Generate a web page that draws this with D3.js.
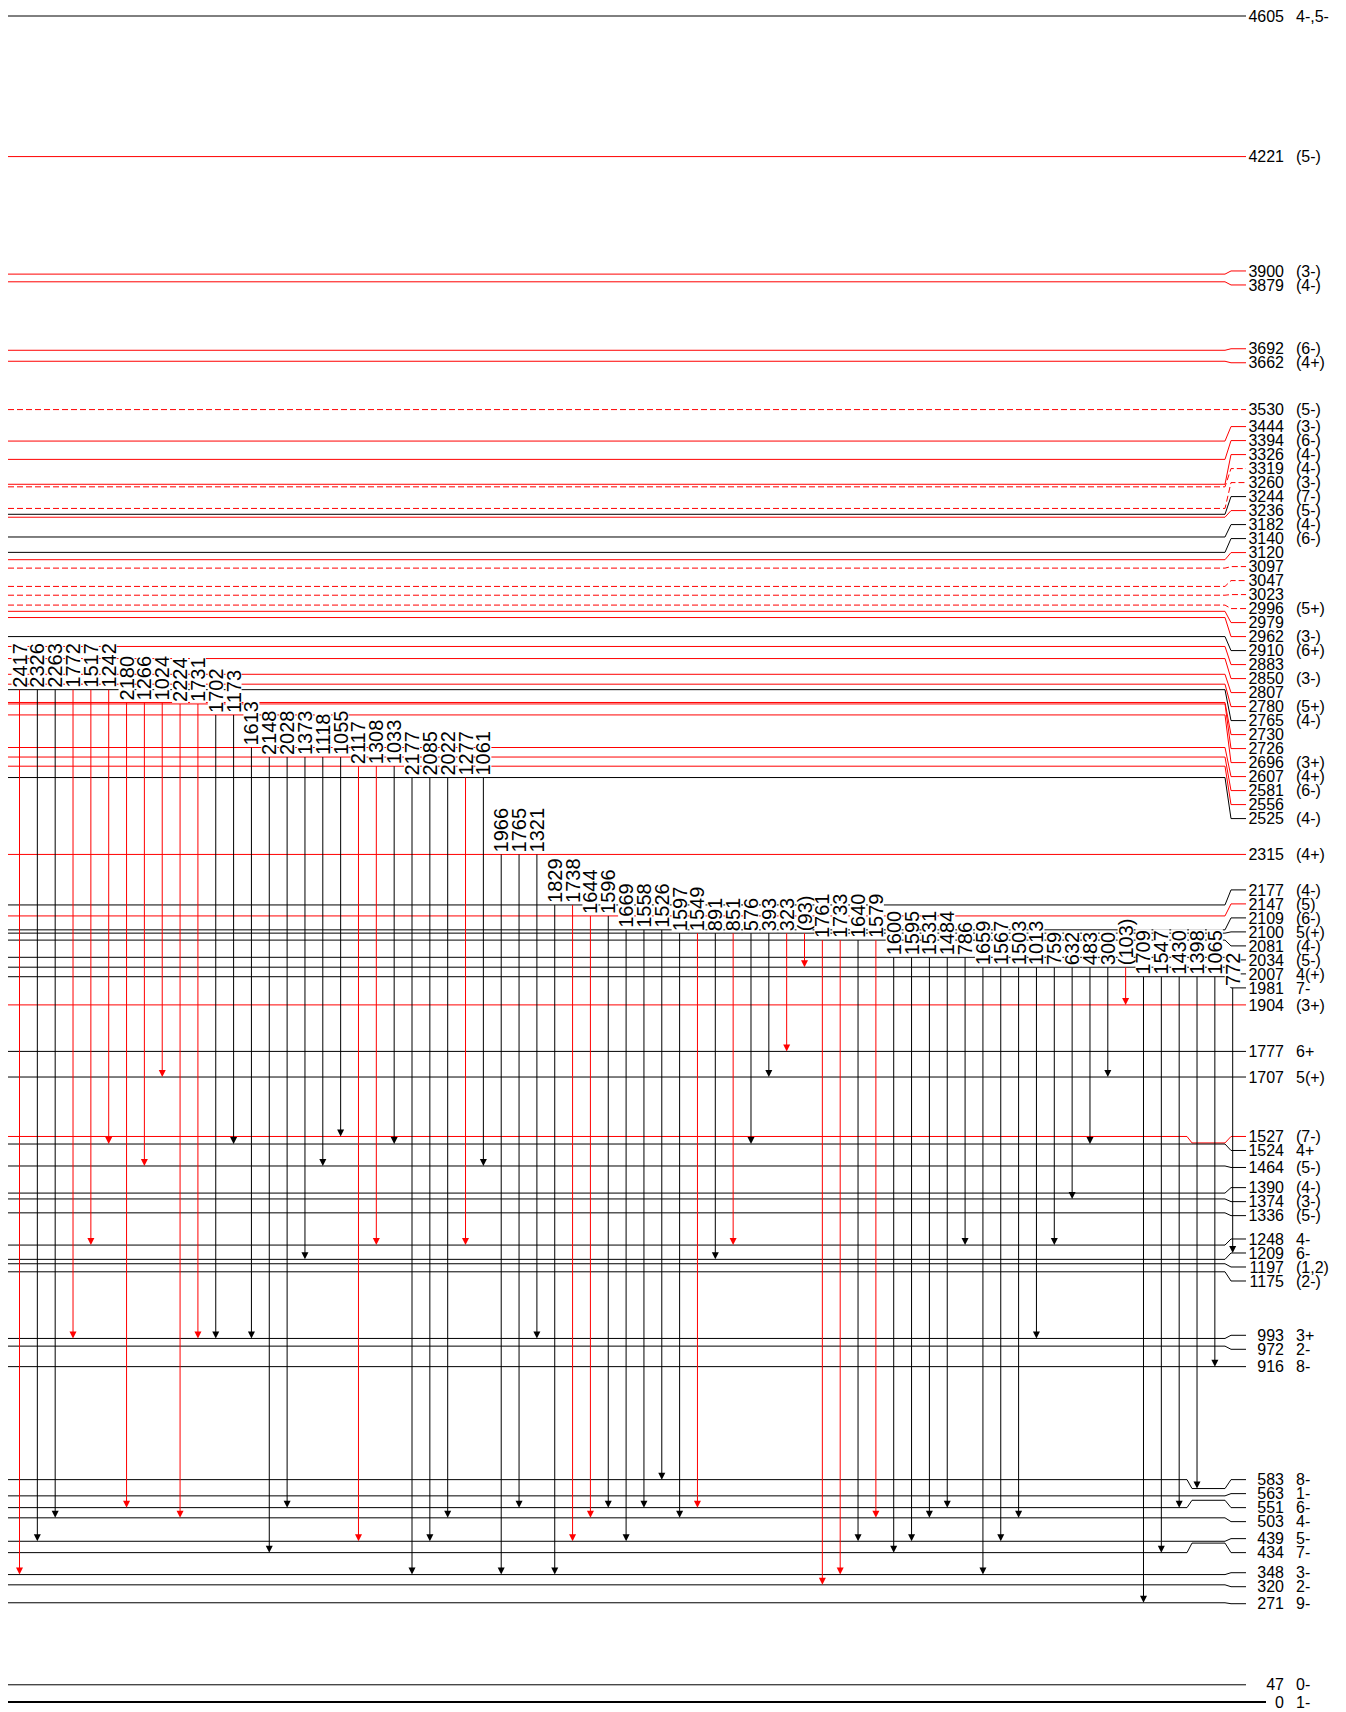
<!DOCTYPE html>
<html>
<head>
<meta charset="utf-8">
<script src="https://cdn.jsdelivr.net/npm/d3@7"></script>
<style>
	body { margin: 0; background: #fff; }
	text { font-family: "Liberation Sans", Arial, sans-serif; }
</style>
</head>
<body>
<div id="scheme"></div>
<script>
// levels, top to bottom (keV) and their spins
const levelE = [4605, 4221, 3900, 3879, 3692, 3662, 3530, 3444, 3394, 3326, 3319, 3260, 3244, 3236,
	3182, 3140, 3120, 3097, 3047, 3023, 2996, 2979, 2962, 2910, 2883, 2850, 2807, 2780, 2765,
	2730, 2726, 2696, 2607, 2581, 2556, 2525, 2315, 2177, 2147, 2109, 2100, 2081, 2034, 2007,
	1981, 1904, 1777, 1707, 1527, 1524, 1464, 1390, 1374, 1336, 1248, 1209, 1197, 1175,
	993, 972, 916, 583, 563, 551, 503, 439, 434, 348, 320, 271, 47, 0]
const levelSpin = ["4-,5-", "(5-)", "(3-)", "(4-)", "(6-)", "(4+)", "(5-)", "(3-)", "(6-)", "(4-)", "(4-)", "(3-)", "(7-)", "(5-)",
	"(4-)", "(6-)", "", "", "", "", "(5+)", "", "(3-)", "(6+)", "", "(3-)", "", "(5+)", "(4-)",
	"", "", "(3+)", "(4+)", "(6-)", "", "(4-)", "(4+)", "(4-)", "(5)", "(6-)", "5(+)", "(4-)", "(5-)", "4(+)",
	"7-", "(3+)", "6+", "5(+)", "(7-)", "4+", "(5-)", "(4-)", "(3-)", "(5-)", "4-", "6-", "(1,2)", "(2-)",
	"3+", "2-", "8-", "8-", "1-", "6-", "4-", "5-", "7-", "3-", "2-", "9-", "0-", "1-"]
// levels seen for the first time (red) and tentative ones (dashed)
const newLevels = [4221, 3900, 3879, 3692, 3662, 3530, 3444, 3394, 3326, 3319, 3260, 3236, 3120, 3097,
	3047, 3023, 2996, 2979, 2962, 2883, 2850, 2807, 2780, 2730, 2726, 2696, 2607, 2581, 2556,
	2315, 2147, 1904, 1527]
const tentativeLevels = [3530, 3319, 3260, 3097, 3047, 3023, 2996]

// gamma rays, left to right
const gammaLabel = ["2417", "2326", "2263", "1772", "1517", "1242", "2180", "1266", "1024", "2224", "1731",
	"1702", "1173", "1613", "2148", "2028", "1373", "1118", "1055", "2117", "1308", "1033", "2177", "2085",
	"2022", "1277", "1061", "1966", "1765", "1321", "1829", "1738", "1644", "1596", "1669", "1558", "1526",
	"1597", "1549", "891", "851", "576", "393", "323", "(93)", "1761", "1733", "1640", "1579", "1600", "1595",
	"1531", "1484", "786", "1659", "1567", "1503", "1013", "759", "632", "483", "300", "(103)", "1709",
	"1547", "1430", "1398", "1065", "772"]
const gammaFrom = [2765, 2765, 2765, 2765, 2765, 2765, 2730, 2730, 2730, 2726, 2726,
	2696, 2696, 2607, 2581, 2581, 2581, 2581, 2581, 2556, 2556, 2556, 2525, 2525,
	2525, 2525, 2525, 2315, 2315, 2315, 2177, 2177, 2147, 2147, 2109, 2109, 2109,
	2100, 2100, 2100, 2100, 2100, 2100, 2100, 2100, 2081, 2081, 2081, 2081, 2034, 2034,
	2034, 2034, 2034, 2007, 2007, 2007, 2007, 2007, 2007, 2007, 2007, 2007, 1981,
	1981, 1981, 1981, 1981, 1981]
const gammaTo = [348, 439, 503, 993, 1248, 1524, 551, 1464, 1707, 503, 993,
	993, 1524, 993, 434, 551, 1209, 1464, 1527, 439, 1248, 1524, 348, 439,
	503, 1248, 1464, 348, 551, 993, 348, 439, 503, 551, 439, 551, 583,
	503, 551, 1209, 1248, 1524, 1707, 1777, 2007, 320, 348, 439, 503, 434, 439,
	503, 551, 1248, 348, 439, 503, 993, 1248, 1374, 1524, 1707, 1904, 271,
	434, 551, 583, 916, 1209]
const newGammas = ["2417", "1772", "1517", "1242", "2180", "1266", "1024", "2224", "1731", "2117", "1308",
	"1277", "1738", "1644", "1549", "851", "323", "(93)", "1761", "1733", "1579", "(103)"]

const W = 1346, H = 1712
const X0 = 8, XJ1 = 1187, XJ2 = 1192, XE = 1225, XS = 1231, XL = 1246
const GAP = 14      // label spacing inside a crowded group
const SEP = 17      // spacing kept between separate groups
// these lines sit at their label height on the left and only drop to the
// real energy in a short piece near the right edge
const splitLevels = [1527, 583, 551, 434]

const y = d3.scaleLinear().domain([0, 4605]).range([1702, 16])
const gx = d3.scaleLinear().domain([0, gammaLabel.length - 1]).range([19.5, 1232.7])

// spread the right hand labels so they don't overlap
function spreadLabels() {
	var ys = levelE.map(e => y(e))
	var groups = levelE.map((e, i) => {
		var near = d3.min(ys.filter((v, j) => j != i).map(v => Math.abs(v - ys[i])))
		return {mem: [e], sum: ys[i], top: ys[i], fixed: near >= 2 * GAP}
	})
	const bottom = g => g.top + (g.mem.length - 1) * GAP
	for (var it = 0; it < 5000; it++) {
		var changed = false
		for (var k = 0; k < groups.length - 1; k++) {
			var a = groups[k], b = groups[k + 1]
			var d = b.top - bottom(a)
			if (d >= SEP - 1e-6) continue
			changed = true
			if (a.fixed) b.top = bottom(a) + SEP
			else if (b.fixed) a.top = b.top - SEP - (a.mem.length - 1) * GAP
			else if (d < GAP - 1) {
				var m = {mem: a.mem.concat(b.mem), sum: a.sum + b.sum, fixed: false}
				m.top = m.sum / m.mem.length - (m.mem.length - 1) * GAP / 2
				groups.splice(k, 2, m)
			}
			else b.top = bottom(a) + SEP
			break
		}
		if (!changed) break
	}
	var out = new Map()
	groups.forEach(g => g.mem.forEach((e, i) => out.set(e, g.top + i * GAP)))
	return out
}
const labelY = spreadLabels()

function lineYAt(e, x) {
	var t = y(e), l = labelY.get(e)
	if (x >= XS) return l
	if (x >= XE) return t + (l - t) * (x - XE) / (XS - XE)
	if (splitLevels.includes(e)) {
		if (x <= XJ1) return l
		if (x < XJ2) return l + (t - l) * (x - XJ1) / (XJ2 - XJ1)
	}
	return t
}

function levelPoints(e) {
	var t = y(e), l = labelY.get(e)
	var pts = []
	if (splitLevels.includes(e)) pts.push([X0, l], [XJ1, l], [XJ2, t])
	else pts.push([X0, t])
	pts.push([XE, t], [XS, l], [e == 0 ? 1266 : XL, l])
	return pts
}

function drawScheme() {
	const svg = d3.select("#scheme").append("svg")
		.attr("width", W)
		.attr("height", H)
		.attr("viewBox", [0, 0, W, H])

	svg.append("rect").attr("width", W).attr("height", H).attr("fill", "#fff")

	const line = d3.line()

	svg.append("g").selectAll("path")
		.data(levelE)
		.join("path")
		.attr("d", d => line(levelPoints(d)))
		.attr("fill", "none")
		.attr("stroke", d => newLevels.includes(d) ? "#ff0000" : "#000")
		.attr("stroke-width", d => d == 0 ? 2 : 1)
		.attr("stroke-dasharray", d => tentativeLevels.includes(d) ? "6,3" : null)

	const lab = svg.append("g").attr("font-size", 16).attr("fill", "#000")
	lab.selectAll("text.energy")
		.data(levelE)
		.join("text")
		.attr("class", "energy")
		.attr("x", 1284)
		.attr("y", d => labelY.get(d))
		.attr("dy", "0.35em")
		.attr("text-anchor", "end")
		.text(d => d)
	lab.selectAll("text.spin")
		.data(levelE)
		.join("text")
		.attr("class", "spin")
		.attr("x", 1296)
		.attr("y", d => labelY.get(d))
		.attr("dy", "0.35em")
		.text((d, i) => levelSpin[i])

	// gamma labels, on a white patch that hides the level lines behind them
	const gammas = gammaLabel.map((g, i) => {
		var x = gx(i)
		return {label: g, x: x, y0: lineYAt(gammaFrom[i], x), y1: lineYAt(gammaTo[i], x),
			red: newGammas.includes(g)}
	})

	const gl = svg.append("g").selectAll("g")
		.data(gammas)
		.join("g")
		.attr("transform", d => `translate(${d.x},${d.y0 - 2}) rotate(-90)`)
	gl.append("rect")
		.attr("fill", "#fff")
	gl.append("text")
		.attr("font-size", 20)
		.attr("dy", "0.35em")
		.text(d => d.label)
	gl.each(function () {
		var len = d3.select(this).select("text").node().getComputedTextLength()
		d3.select(this).select("rect")
			.attr("x", -1).attr("y", -8)
			.attr("width", len + 2).attr("height", 16)
	})

	const arr = svg.append("g").selectAll("g")
		.data(gammas)
		.join("g")
	arr.append("line")
		.attr("x1", d => d.x).attr("x2", d => d.x)
		.attr("y1", d => d.y0).attr("y2", d => d.y1 - 6)
		.attr("stroke", d => d.red ? "#ff0000" : "#000")
		.attr("stroke-width", 1)
	arr.append("path")
		.attr("d", d => `M${d.x},${d.y1}L${d.x - 3.5},${d.y1 - 7}L${d.x + 3.5},${d.y1 - 7}Z`)
		.attr("fill", d => d.red ? "#ff0000" : "#000")
}

drawScheme()
</script>
</body>
</html>
